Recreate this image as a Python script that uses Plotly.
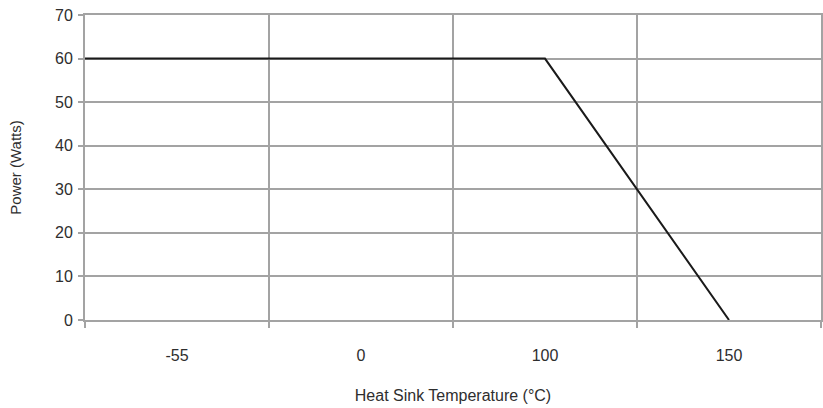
import plotly.graph_objects as go

# Data
tick_labels = ["-55", "0", "100", "150"]
temps = [-55, 100, 150]
power = [60, 60, 0]
y_ticks = [0, 10, 20, 30, 40, 50, 60, 70]

# category axis: each label sits in the middle of its column
x_range = [-0.5, len(tick_labels) - 0.5]
pos = [tick_labels.index(str(t)) for t in temps]
pos[0] = x_range[0]  # flat segment starts at the left edge of the plot

grid_c = "#a3a3a3"
txt_c = "#2e2e2e"
font = "Liberation Sans, Arial, sans-serif"

fig = go.Figure()
fig.add_trace(go.Scatter(x=pos, y=power, mode="lines",
                         line=dict(color="#1a1a1a", width=2), hoverinfo="skip"))

fig.update_layout(
    width=823, height=408,
    margin=dict(l=85, r=2, t=15, b=88),
    paper_bgcolor="white", plot_bgcolor="white",
    showlegend=False,
    font=dict(family=font, size=16, color=txt_c),
    xaxis=dict(
        range=x_range, tickmode="array", automargin=False,
        tickvals=list(range(len(tick_labels))), ticktext=tick_labels,
        showgrid=False, ticks="", zeroline=False,
        showline=True, linecolor=grid_c, linewidth=2, mirror=True,
        ticklabelstandoff=20,
        minor=dict(tick0=0.5, dtick=1, showgrid=True, gridcolor=grid_c,
                   gridwidth=1.5, ticks="outside", ticklen=6,
                   tickcolor=grid_c, tickwidth=1.5),
        title=dict(text="Heat Sink Temperature (°C)", standoff=27,
                   font=dict(size=16)),
    ),
    yaxis=dict(
        range=[0, 70], tickmode="array", tickvals=y_ticks, automargin=False,
        showgrid=True, gridcolor=grid_c, gridwidth=1.5, zeroline=False,
        showline=True, linecolor=grid_c, linewidth=2, mirror=True,
        ticks="outside", ticklen=5, tickcolor=grid_c, tickwidth=1.5,
        ticklabelstandoff=2,
        title=dict(text="Power (Watts)", standoff=30, font=dict(size=15)),
    ),
)

fig.write_html("out.html", config={"displayModeBar": False},
               post_script="document.body.style.margin='0';")
